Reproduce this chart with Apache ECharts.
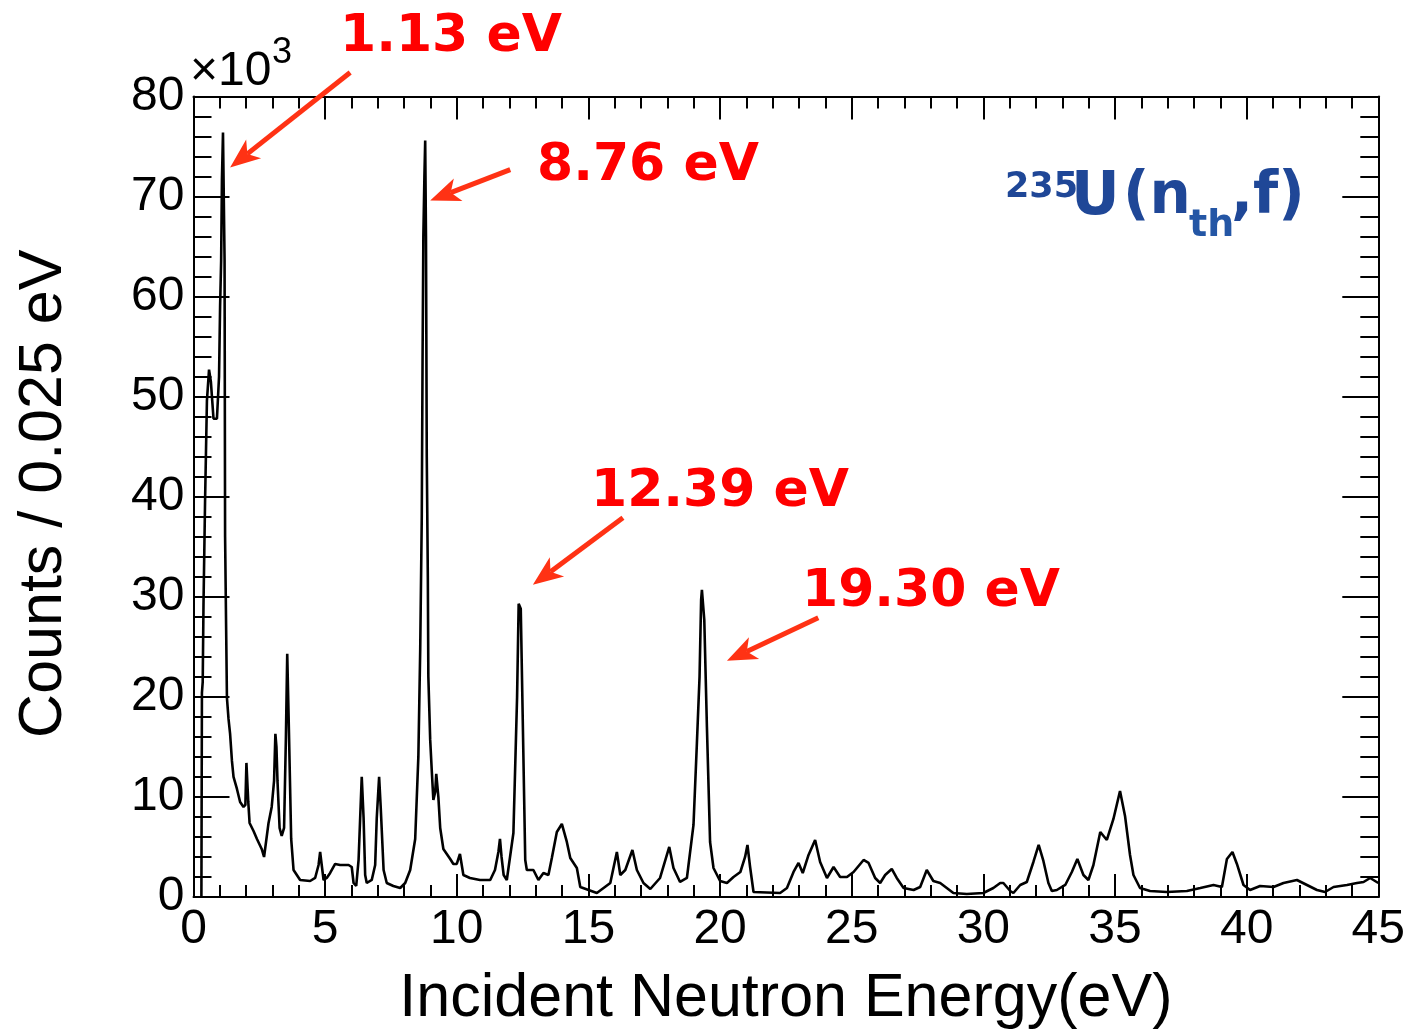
<!DOCTYPE html>
<html>
<head>
<meta charset="utf-8">
<title>235U(nth,f) resonance spectrum</title>
<script src="https://cdn.jsdelivr.net/npm/echarts@6/dist/echarts.min.js"></script>
<style>
html, body { margin: 0; padding: 0; background: #fff; }
#chart { width: 1408px; height: 1035px; }
</style>
</head>
<body>
<div id="chart"></div>
<script>
// incident neutron energy (eV) of each read point
var energy = [
  0.30, 0.32, 0.35, 0.38, 0.44, 0.51, 0.59, 0.66, 0.76, 0.89, 0.97, 1.01, 1.05, 1.08, 1.12, 1.15,
  1.18, 1.20, 1.24, 1.27, 1.33, 1.39, 1.46, 1.52, 1.65, 1.77, 1.90, 1.97, 2.01, 2.04, 2.08, 2.13,
  2.28, 2.41, 2.59, 2.68, 2.85, 2.97, 3.06, 3.11, 3.15, 3.19, 3.27, 3.35, 3.44, 3.51, 3.56, 3.60,
  3.63, 3.71, 3.80, 4.05, 4.43, 4.62, 4.75, 4.81, 4.87, 4.94, 5.06, 5.19, 5.38, 5.57, 5.89, 6.01,
  6.08, 6.18, 6.27, 6.33, 6.39, 6.46, 6.52, 6.58, 6.77, 6.90, 6.96, 7.05, 7.11, 7.22, 7.34, 7.59,
  7.85, 8.04, 8.23, 8.42, 8.54, 8.61, 8.67, 8.70, 8.73, 8.77, 8.80, 8.83, 8.86, 8.90, 8.92, 8.99,
  9.05, 9.11, 9.18, 9.22, 9.26, 9.30, 9.37, 9.49, 9.62, 9.75, 9.87, 10.00, 10.12, 10.25, 10.50, 10.88,
  11.27, 11.45, 11.58, 11.64, 11.70, 11.78, 11.90, 12.15, 12.29, 12.35, 12.43, 12.50, 12.60, 12.66, 12.91, 13.10,
  13.29, 13.48, 13.61, 13.80, 13.99, 14.18, 14.31, 14.56, 14.69, 15.32, 15.83, 16.08, 16.21, 16.40, 16.67, 16.84,
  17.09, 17.35, 17.72, 18.07, 18.23, 18.48, 18.74, 18.99, 19.12, 19.22, 19.28, 19.31, 19.40, 19.50, 19.62, 19.75,
  20.00, 20.26, 20.51, 20.77, 20.95, 21.04, 21.14, 21.27, 21.33, 22.28, 22.54, 22.79, 22.98, 23.14, 23.36, 23.61,
  23.80, 24.06, 24.31, 24.56, 24.82, 25.07, 25.45, 25.64, 25.89, 26.08, 26.27, 26.52, 26.71, 26.97, 27.35, 27.60,
  27.85, 28.10, 28.36, 28.61, 28.86, 29.37, 30.00, 30.38, 30.64, 30.76, 31.02, 31.14, 31.40, 31.65, 31.90, 32.10,
  32.28, 32.47, 32.60, 32.79, 33.11, 33.36, 33.57, 33.80, 33.99, 34.18, 34.44, 34.69, 34.94, 35.19, 35.38, 35.57,
  35.70, 35.95, 36.33, 36.97, 37.73, 38.24, 38.74, 39.06, 39.25, 39.46, 39.63, 39.88, 40.13, 40.51, 41.02, 41.40,
  41.91, 42.29, 42.67, 42.98, 43.30, 43.81, 44.19, 44.44, 44.69, 45.00
];
// counts / 0.025 eV, in units of 10^3
var counts = [
  0, 20.4, 21.5, 29.3, 39.7, 49.6, 52.7, 51.5, 47.8, 47.8, 52.0, 59.0, 63.6, 71.7, 76.4, 76.4,
  63.6, 36.0, 26.7, 19.9, 17.8, 16.3, 13.6, 12.0, 10.8, 9.5, 9.0, 9.2, 13.4, 13.4, 9.5, 7.4,
  6.6, 5.8, 4.8, 4.0, 7.4, 9.0, 11.6, 16.3, 15.0, 11.6, 6.9, 6.1, 6.9, 16.0, 24.3, 24.3,
  15.9, 5.8, 2.7, 1.7, 1.6, 1.9, 3.2, 4.5, 3.2, 1.7, 1.9, 2.4, 3.3, 3.2, 3.2, 3.0,
  1.4, 1.1, 3.7, 7.9, 12.0, 7.9, 2.2, 1.4, 1.7, 3.2, 7.9, 12.0, 9.0, 2.7, 1.4, 1.1,
  0.9, 1.4, 2.7, 5.8, 14.0, 24.6, 38.0, 53.7, 66.0, 72.0, 75.6, 66.0, 44.0, 32.0, 22.0, 15.7,
  12.6, 9.7, 10.5, 12.3, 12.3, 10.0, 6.9, 4.8, 4.3, 3.8, 3.3, 3.3, 4.3, 2.2, 1.9, 1.7,
  1.7, 2.7, 4.5, 5.8, 4.0, 2.2, 1.7, 6.4, 20.0, 29.3, 28.8, 18.5, 3.7, 2.7, 2.7, 1.7,
  2.4, 2.2, 3.9, 6.5, 7.3, 5.5, 3.9, 2.9, 1.0, 0.4, 1.4, 4.5, 2.2, 2.7, 4.7, 2.7,
  1.4, 0.8, 1.9, 5.0, 2.9, 1.5, 1.9, 7.2, 15.4, 22.0, 29.7, 30.7, 27.7, 17.0, 5.5, 2.9,
  1.6, 1.4, 2.0, 2.5, 4.0, 5.2, 3.0, 0.5, 0.4, 0.4, 0.9, 2.5, 3.4, 2.4, 4.2, 5.7,
  3.5, 1.9, 3.0, 2.0, 2.0, 2.5, 3.7, 3.4, 1.9, 1.4, 2.2, 2.8, 1.9, 0.9, 0.7, 1.0,
  2.7, 1.6, 1.4, 0.9, 0.4, 0.3, 0.4, 0.9, 1.4, 1.4, 0.6, 0.4, 1.2, 1.5, 3.5, 5.2,
  3.6, 1.4, 0.6, 0.7, 1.2, 2.5, 3.8, 2.2, 1.7, 3.2, 6.5, 5.7, 7.8, 10.6, 8.1, 4.2,
  2.2, 0.9, 0.6, 0.5, 0.6, 0.9, 1.2, 1.0, 3.8, 4.5, 3.3, 1.2, 0.7, 1.1, 1.0, 1.4,
  1.7, 1.2, 0.7, 0.5, 1.0, 1.2, 1.4, 1.5, 1.9, 1.4
];

// axis ranges and tick steps
var xRange = [0, 45, 5];
var yRange = [0, 80, 10];

// peak labels and their arrows (tail -> tip, in eV / 10^3 counts)
var peakNames = ['1.13 eV', '8.76 eV', '12.39 eV', '19.30 eV'];
var arrowTail = [[5.95, 82.4], [12.03, 72.7], [16.31, 37.9], [23.73, 27.9]];
var arrowTip = [[1.39, 72.9], [8.99, 69.6], [12.89, 31.2], [20.26, 23.6]];

var chart = echarts.init(document.getElementById('chart'));

var seriesData = energy.map(function (e, i) { return [e, counts[i]]; });

var sans = '"Liberation Sans", Arial, sans-serif';
var black = '#000';

function makeAxis(range, pos, main, tickLen, minorLen) {
  return {
    type: 'value',
    position: pos,
    min: range[0],
    max: range[1],
    interval: range[2],
    axisLine: { onZero: false, lineStyle: { color: black, width: 2 } },
    axisTick: { inside: true, length: tickLen, lineStyle: { color: black, width: 2 } },
    minorTick: { show: true, splitNumber: 5, length: minorLen, lineStyle: { color: black, width: 2 } },
    axisLabel: { show: main, fontFamily: sans, fontSize: 48, color: black },
    splitLine: { show: false },
    minorSplitLine: { show: false }
  };
}

var xMain = makeAxis(xRange, 'bottom', true, 23, 12);
xMain.axisLabel.margin = 9;
xMain.name = 'Incident Neutron Energy(eV)';
xMain.nameLocation = 'middle';
xMain.nameGap = 72;
xMain.nameTextStyle = { fontFamily: sans, fontSize: 61, color: black };

var yMain = makeAxis(yRange, 'left', true, 36, 18);
yMain.axisLabel.margin = 9;
yMain.axisLabel.padding = [6, 0, 0, 0];
yMain.name = 'Counts / 0.025 eV';
yMain.nameLocation = 'middle';
yMain.nameRotate = 90;
yMain.nameGap = 119;
yMain.nameTextStyle = { fontFamily: sans, fontSize: 61, color: black, padding: [0, 0, 0, 6] };

var option = {
  animation: false,
  backgroundColor: '#fff',
  grid: { left: 193.5, right: 29, top: 96.5, bottom: 133 },
  xAxis: [xMain, makeAxis(xRange, 'top', false, 23, 12)],
  yAxis: [yMain, makeAxis(yRange, 'right', false, 36, 18)],
  series: [{
    type: 'line',
    xAxisIndex: 0,
    yAxisIndex: 0,
    data: seriesData,
    symbol: 'none',
    lineStyle: { color: black, width: 2.6 }
  }]
};

chart.setOption(option);

// annotations
var red = '#ff0000';
var arrowRed = '#ff3214';
var blue = '#1f4797';
var bold52 = 'bold 52px "DejaVu Sans"';

function txt(str, x, y, font, color) {
  return {
    type: 'text',
    z: 100,
    style: {
      text: str, x: x, y: y, font: font, fill: color,
      align: 'left', verticalAlign: 'middle',
      textAlign: 'left', textVerticalAlign: 'middle'
    }
  };
}

var labelPx = [[340, 37], [537, 166], [591, 492], [802, 592]];
var graphics = [];
peakNames.forEach(function (name, i) {
  graphics.push(txt(name, labelPx[i][0], labelPx[i][1], bold52, red));
});

// arrows
var headLen = 30, headHalf = 12, notch = 8;
arrowTail.forEach(function (t, i) {
  var a = chart.convertToPixel({ gridIndex: 0 }, t);
  var b = chart.convertToPixel({ gridIndex: 0 }, arrowTip[i]);
  var dx = b[0] - a[0], dy = b[1] - a[1];
  var len = Math.sqrt(dx * dx + dy * dy);
  var ux = dx / len, uy = dy / len;
  var nx = -uy, ny = ux;
  var bx = b[0] - ux * headLen, by = b[1] - uy * headLen;
  var mx = b[0] - ux * (headLen - notch), my = b[1] - uy * (headLen - notch);
  graphics.push({
    type: 'line', z: 90,
    shape: { x1: a[0], y1: a[1], x2: mx, y2: my },
    style: { stroke: arrowRed, lineWidth: 5 }
  });
  graphics.push({
    type: 'polygon', z: 91,
    shape: { points: [b, [bx + nx * headHalf, by + ny * headHalf], [mx, my], [bx - nx * headHalf, by - ny * headHalf]] },
    style: { fill: arrowRed }
  });
});

// x10^3 multiplier of the y axis
graphics.push(txt('\u00d710', 190, 72, '48px ' + sans, black));
graphics.push(txt('3', 272, 53, '36px ' + sans, black));

// reaction label
graphics.push(txt('235', 1005, 188, 'bold 35px "DejaVu Sans"', blue));
graphics.push(txt('U', 1071, 198, 'bold 60px "DejaVu Sans"', blue));
graphics.push(txt('(n', 1123, 198, 'bold 58px "DejaVu Sans"', blue));
graphics.push(txt('th', 1189, 226, 'bold 38px "DejaVu Sans"', '#2456a5'));
graphics.push(txt(',f)', 1231, 198, 'bold 58px "DejaVu Sans"', blue));

chart.setOption({ graphic: graphics });
</script>
</body>
</html>
